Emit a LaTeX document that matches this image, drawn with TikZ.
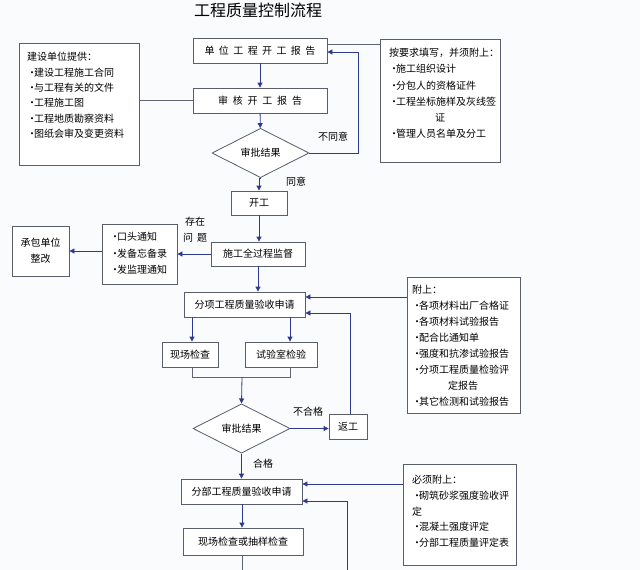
\documentclass[tikz,border=0pt]{standalone}
\usepackage{fontspec}
\setmainfont{Noto Sans CJK SC}
\usetikzlibrary{shapes.geometric,arrows.meta}
\definecolor{boxc}{HTML}{5A5E6B}
\definecolor{arrc}{HTML}{2E3A8C}
\definecolor{linec}{HTML}{5F6478}
\definecolor{bgc}{HTML}{FAFBFC}
\newcommand\lbul{\makebox[7pt][l]{·}}
\begin{document}
\begin{tikzpicture}[x=1pt,y=-1pt,
 box/.style={draw=boxc,line width=0.8pt,fill=white,inner sep=0pt,font=\fontsize{10}{12}\selectfont},
 dia/.style={draw=boxc,line width=0.8pt,fill=white,diamond,inner sep=0pt,minimum width=97pt,minimum height=48pt,font=\fontsize{10}{12}\selectfont},
 arr/.style={draw=arrc,line width=0.8pt,-{Triangle[length=5pt,width=5pt]}},
 ln/.style={draw=linec,line width=0.8pt},
 lbl/.style={font=\fontsize{10}{12}\selectfont,inner sep=0pt},
 lst/.style={font=\fontsize{10}{15.4}\selectfont,align=left,inner sep=0pt,anchor=north west}]
\fill[bgc] (0,0) rectangle (640,570);
\useasboundingbox (0,0) rectangle (640,570);

\node[font=\fontsize{16}{18}\selectfont,inner sep=0pt] (title) at (258,10) {工程质量控制流程};

% main column
\node[box,minimum width=134pt,minimum height=25pt] (b1) at (260,50.5) {单\hspace{4.4pt}位\hspace{4.4pt}工\hspace{4.4pt}程\hspace{4.4pt}开\hspace{4.4pt}工\hspace{4.4pt}报\hspace{4.4pt}告};
\node[box,minimum width=134pt,minimum height=25pt] (b2) at (260,100.5) {审\hspace{4.8pt}核\hspace{4.8pt}开\hspace{4.8pt}工\hspace{4.8pt}报\hspace{4.8pt}告};
\node[dia] (d1) at (260.5,153) {审批结果};
\node[box,minimum width=56pt,minimum height=24pt] (kg) at (259,203) {开工};
\node[box,minimum width=94pt,minimum height=24pt] (sg) at (258,254) {施工全过程监督};
\node[box,minimum width=75pt,minimum height=60pt] (tz) at (139.5,254) {};
\node[lst] (tzt) at (110,232) {\lbul 口头通知\\[1.1pt]\lbul 发备忘备录\\[1.1pt]\lbul 发监理通知};
\node[box,minimum width=57pt,minimum height=50pt,align=center,font=\fontsize{10}{16}\selectfont] (cb) at (40.5,251) {承包单位\\整改};
\node[box,minimum width=121pt,minimum height=25pt] (fx) at (244.5,304.5) {分项工程质量验收申请};
\node[box,minimum width=56pt,minimum height=25pt] (xc) at (190,354.5) {现场检查};
\node[box,minimum width=72pt,minimum height=25pt] (sy) at (281,354.5) {试验室检验};
\coordinate (j) at (242,377);
\node[dia,minimum height=49pt] (d2) at (241.5,428.5) {审批结果};
\node[box,minimum width=38pt,minimum height=25pt] (fg) at (348,426.5) {返工};
\node[box,minimum width=121pt,minimum height=25pt] (fb) at (241.5,491.5) {分部工程质量验收申请};
\node[box,minimum width=120pt,minimum height=27pt] (jc) at (243,541.5) {现场检查或抽样检查};
\coordinate (endA) at (242,570);
\coordinate (endB) at (347,570);

% side boxes
\node[box,minimum width=120pt,minimum height=122pt] (lb) at (79,104) {};
\node[lst] (lbt) at (27,52) {建设单位提供：\\\lbul 建设工程施工合同\\\lbul 与工程有关的文件\\\lbul 工程施工图\\\lbul 工程地质勘察资料\\\lbul 图纸会审及变更资料};
\node[box,minimum width=120pt,minimum height=123pt] (rb) at (440,100.5) {};
\node[lst,font=\fontsize{10}{16.2}\selectfont] (rbt) at (389,48) {按要求填写，并须附上：\\\lbul 施工组织设计\\\lbul 分包人的资格证件\\\lbul 工程坐标施样及灰线签\\\hspace*{46pt}证\\\lbul 管理人员名单及分工};
\node[box,minimum width=113pt,minimum height=136pt] (fs) at (463.5,345) {};
\node[lst,font=\fontsize{10}{16}\selectfont] (fst) at (412,285) {附上：\\\lbul 各项材料出厂合格证\\\lbul 各项材料试验报告\\\lbul 配合比通知单\\\lbul 强度和抗渗试验报告\\\lbul 分项工程质量检验评\\\hspace*{36pt}定报告\\\lbul 其它检测和试验报告};
\node[box,minimum width=113pt,minimum height=101pt] (bx) at (459.5,514.5) {};
\node[lst,font=\fontsize{10}{15.8}\selectfont] (bxt) at (412,475) {必须附上：\\\lbul 砌筑砂浆强度验收评\\定\\\lbul 混凝土强度评定\\\lbul 分部工程质量评定表};

% labels
\node[lbl] (l1) at (333,137) {不同意};
\node[lbl] (l2) at (296,182) {同意};
\node[lbl,align=center,font=\fontsize{10}{16}\selectfont] (l3) at (195,230) {存在\\问\hspace{4pt}题};
\node[lbl] (l4) at (308,412) {不合格};
\node[lbl] (l5) at (263,464) {合格};

% connectors
\draw[arr] (b1) -- (b2);
\draw[arr] (b2) -- (d1);
\draw[arr] (d1.south) -- (d1.south -| kg) -- (kg.north);
\draw[arr] (d1.east) -- (358,153) -- (358,52) -- (b1.east |- 0,52);
\draw[ln] (lb.east |- b2) -- (b2.west);
\draw[ln] (rb.west |- 0,44) -- (b1.east |- 0,44);
\draw[arr] (kg) -- (kg |- sg.north);
\draw[arr] (sg.west) -- (tz.east |- sg.west);
\draw[arr] (tz.west |- cb.east) -- (cb.east);
\draw[arr] (sg.south) -- (sg.south |- fx.north);
\draw[arr] (fx.south -| 192,0) -- (192,0 |- xc.north);
\draw[arr] (fx.south -| 290,0) -- (290,0 |- sy.north);
\draw[ln] (xc.south -| 192,0) -- (192,0 |- j) -- (290,0 |- j) -- (290,0 |- sy.south);
\draw[arr] (j) -- (d2.north);
\draw[arr] (d2.east) -- (fg.west |- d2.east);
\draw[arr] (fg.north -| 350,0) -- (350,313) -- (fx.east |- 0,313);
\draw[arr] (fs.west |- 0,297) -- (fx.east |- 0,297);
\draw[arr] (d2.south) -- (d2.south |- fb.north);
\draw[arr] (bx.west |- 0,484) -- (fb.east |- 0,484);
\draw[arr] (endB) -- (347,501) -- (fb.east |- 0,501);
\draw[arr] (fb.south -| 242,0) -- (242,0 |- jc.north);
\draw[ln] (jc.south -| 242,0) -- (endA);
\end{tikzpicture}
\end{document}
